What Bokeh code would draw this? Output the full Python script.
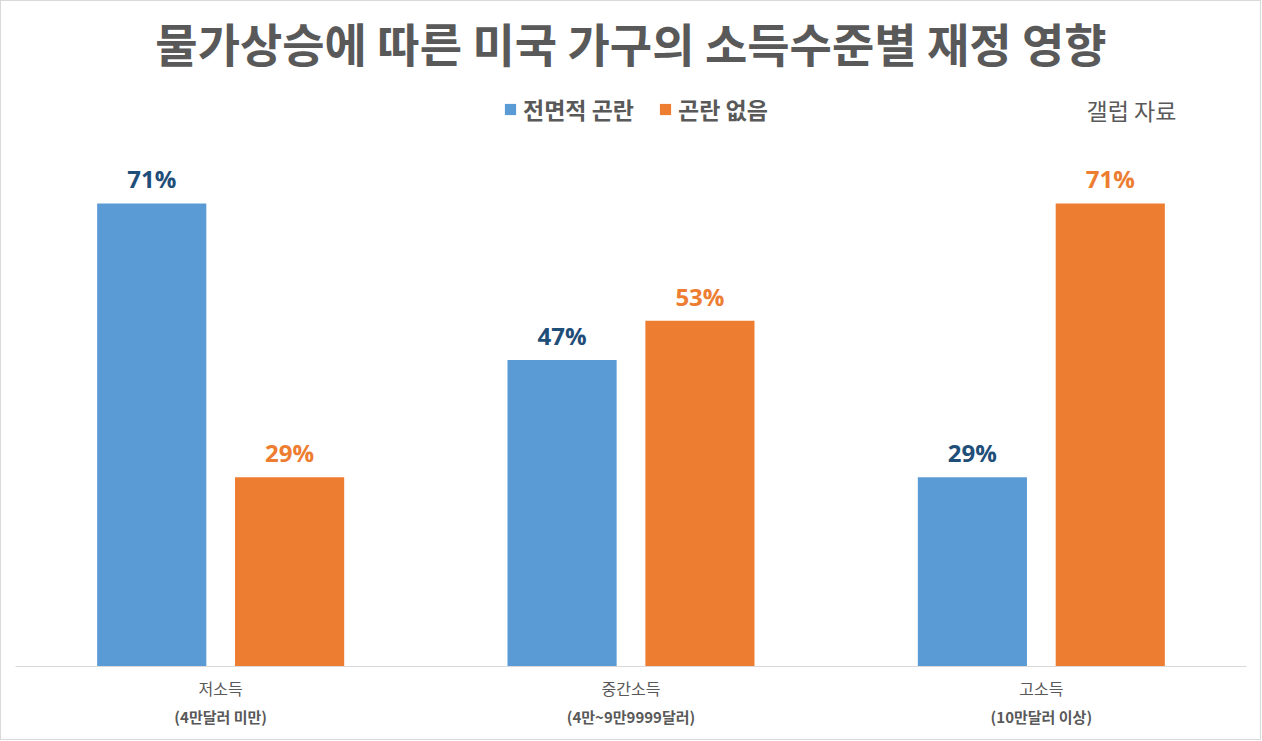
from bokeh.plotting import figure
from bokeh.models import (ColumnDataSource, FactorRange, Range1d, LabelSet, Label,
                          Legend, LegendItem, CategoricalAxis)
from bokeh.transform import dodge
from bokeh.core.properties import value
from bokeh.embed import file_html
from bokeh.resources import INLINE

categories = ["저소득", "중간소득", "고소득"]
sublabels = ["(4만달러 미만)", "(4만~9만9999달러)", "(10만달러 이상)"]
series_names = ["전면적 곤란", "곤란 없음"]
hardship = [71, 47, 29]
no_hardship = [29, 53, 71]

BLUE = "#5b9bd5"
ORANGE = "#ed7d31"
DARK_BLUE = "#1f4e79"
GRAY = "#595959"
KR = "Noto Sans CJK KR"

source = ColumnDataSource(data=dict(
    cat=categories,
    hardship=hardship,
    no_hardship=no_hardship,
    hardship_lbl=[f"{v}%" for v in hardship],
    no_hardship_lbl=[f"{v}%" for v in no_hardship],
))

p = figure(x_range=FactorRange(*categories, range_padding=0), y_range=Range1d(0, 90),
           width=1261, height=740, output_backend="svg", toolbar_location=None,
           min_border_left=14, min_border_right=16, min_border_top=78, min_border_bottom=75)

p.title.text = "물가상승에 따른 미국 가구의 소득수준별 재정 영향"
p.title.align = "center"
p.title.text_font = KR
p.title.text_font_size = "46px"
p.title.text_font_style = "bold"
p.title.text_color = GRAY

b1 = p.vbar(x=dodge("cat", -0.168, range=p.x_range), top="hardship", width=0.266,
            source=source, color=BLUE, line_color=None)
b2 = p.vbar(x=dodge("cat", 0.168, range=p.x_range), top="no_hardship", width=0.266,
            source=source, color=ORANGE, line_color=None)

lbl1 = LabelSet(x=dodge("cat", -0.168, range=p.x_range), y="hardship", text="hardship_lbl",
                source=source, text_align="center", text_baseline="bottom", y_offset=8,
                text_font=value("Open Sans"), text_font_style="bold", text_font_size="24px",
                text_color=DARK_BLUE)
lbl2 = LabelSet(x=dodge("cat", 0.168, range=p.x_range), y="no_hardship", text="no_hardship_lbl",
                source=source, text_align="center", text_baseline="bottom", y_offset=8,
                text_font=value("Open Sans"), text_font_style="bold", text_font_size="24px",
                text_color=ORANGE)
p.add_layout(lbl1)
p.add_layout(lbl2)

# legend glyphs are drawn at 80% of glyph size, so 14 gives ~11px squares
legend = Legend(items=[LegendItem(label=series_names[0], renderers=[b1]),
                       LegendItem(label=series_names[1], renderers=[b2])],
                location=(488, 540), orientation="horizontal")
legend.glyph_width = 14
legend.glyph_height = 14
legend.label_standoff = 6
legend.spacing = 24
legend.padding = 0
legend.margin = 0
legend.border_line_color = None
legend.background_fill_alpha = 0
legend.label_text_font = KR
legend.label_text_font_size = "23px"
legend.label_text_font_style = "bold"
legend.label_text_color = GRAY
p.add_layout(legend)

note = Label(x=1071, y=540, x_units="screen", y_units="screen", text="갤럽 자료",
             text_font=KR, text_font_size="23px", text_color=GRAY)
p.add_layout(note)

p.xaxis.axis_line_color = "#d9d9d9"
p.xaxis.major_tick_line_color = None
p.xaxis.minor_tick_line_color = None
p.xaxis.major_tick_out = 0
p.xaxis.minor_tick_out = 0
p.xaxis.major_label_text_font = KR
p.xaxis.major_label_text_font_size = "16px"
p.xaxis.major_label_text_color = GRAY
p.xaxis.major_label_standoff = 9

p.extra_x_ranges = {"sub": FactorRange(*sublabels, range_padding=0)}
sub_axis = CategoricalAxis(x_range_name="sub")
sub_axis.axis_line_color = None
sub_axis.major_tick_line_color = None
sub_axis.minor_tick_line_color = None
sub_axis.major_tick_out = 0
sub_axis.minor_tick_out = 0
sub_axis.major_label_text_font = KR
sub_axis.major_label_text_font_size = "15px"
sub_axis.major_label_text_font_style = "bold"
sub_axis.major_label_text_color = GRAY
sub_axis.major_label_standoff = 3
p.add_layout(sub_axis, "below")

p.yaxis.visible = False
p.xgrid.grid_line_color = None
p.ygrid.grid_line_color = None
p.outline_line_color = None
p.styles = {"border": "1px solid #d9d9d9"}

open("out.html", "w").write(file_html(p, INLINE))
